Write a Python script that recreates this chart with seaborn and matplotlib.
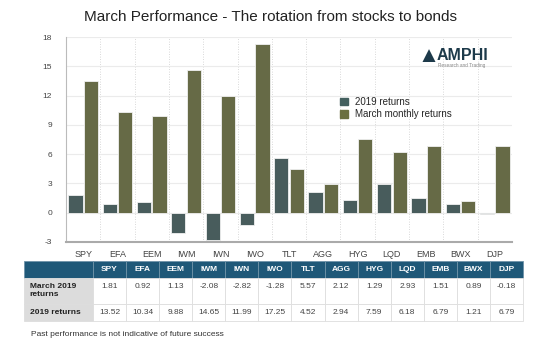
import matplotlib
matplotlib.use('Agg')
import matplotlib.pyplot as plt
import numpy as np
import pandas as pd
import seaborn as sns

tickers = ['SPY', 'EFA', 'EEM', 'IWM', 'IWN', 'IWO', 'TLT', 'AGG', 'HYG', 'LQD', 'EMB', 'BWX', 'DJP']
march_2019 = [1.81, 0.92, 1.13, -2.08, -2.82, -1.28, 5.57, 2.12, 1.29, 2.93, 1.51, 0.89, -0.18]
ret_2019 = [13.52, 10.34, 9.88, 14.65, 11.99, 17.25, 4.52, 2.94, 7.59, 6.18, 6.79, 1.21, 6.79]
legend_names = ['2019 returns', 'March monthly returns']
row_names = ['March 2019\nreturns', '2019 returns']

BLUE = '#44605f'
GREEN = '#6b7040'
HEADER = '#1f5878'

df = pd.DataFrame({
    'ticker': tickers * 2,
    'value': march_2019 + ret_2019,
    'series': [legend_names[0]] * len(tickers) + [legend_names[1]] * len(tickers),
})

sns.set_style('white')
plt.rcParams['font.family'] = ['Liberation Sans', 'DejaVu Sans']
plt.rcParams['axes.unicode_minus'] = False

fig = plt.figure(figsize=(5.35, 3.54), dpi=100)
ax = fig.add_axes([66 / 535, 1 - 242 / 354, 446 / 535, 205 / 354])

sns.barplot(data=df, x='ticker', y='value', hue='series', order=tickers,
            palette=[BLUE, GREEN], width=0.9, gap=0.08, edgecolor='#f0f0f0',
            linewidth=0.6, ax=ax, legend=False)

ax.set_ylim(-3, 18)
ax.set_yticks(np.arange(-3, 19, 3))
ax.set_xlim(-0.5, len(tickers) - 0.5)
ax.set_xlabel('')
ax.set_ylabel('')
ax.yaxis.grid(True, color='#ebebeb', lw=0.8)
for i in range(len(tickers)):
    ax.axvline(i + 0.5, color='#cccccc', lw=0.6, ls=(0, (1, 2)), zorder=0)
ax.set_axisbelow(True)
for s in ['top', 'right']:
    ax.spines[s].set_visible(False)
ax.spines['left'].set_color('#bbbbbb')
ax.spines['bottom'].set_color('#aaaaaa')
ax.spines['bottom'].set_linewidth(1.5)
ax.tick_params(axis='y', labelsize=6, colors='#444444', length=0, pad=10)
ax.tick_params(axis='x', labelsize=6.5, colors='#444444', length=0, pad=6)

# legend
handles = [plt.Rectangle((0, 0), 1, 1, color=c) for c in [BLUE, GREEN]]
fig.legend(handles, legend_names, loc='upper left', bbox_to_anchor=(331 / 535, 1 - 88 / 354),
           frameon=False, fontsize=7, handlelength=0.8, handleheight=0.8,
           handletextpad=0.8, labelspacing=0.25)

# logo
fig.text(428 / 535, 1 - 56 / 354, '\u25B2', color='#1d3a4a', fontsize=16, ha='center', va='center')
fig.text(437 / 535, 1 - 55 / 354, 'AMPHI', color='#1d3a4a', fontsize=11.5, fontweight='bold',
         ha='left', va='center')
fig.text(438 / 535, 1 - 65 / 354, 'Research and Trading', color='#888888', fontsize=3.4,
         ha='left', va='center')

# title
fig.text(271 / 535, 1 - 17 / 354, 'March Performance - The rotation from stocks to bonds',
         fontsize=11, ha='center', va='center', color='#222222')

# table
tax = fig.add_axes([24 / 535, 1 - 321 / 354, 499 / 535, 60 / 354])
tax.axis('off')
cells = [[''] + tickers,
         [row_names[0]] + [f'{v:.2f}\n' for v in march_2019],
         [row_names[1]] + [f'{v:.2f}' for v in ret_2019]]
tbl = tax.table(cellText=cells, bbox=[0, 0, 1, 1], cellLoc='center')
tbl.auto_set_font_size(False)
first_w = 69 / 499
other_w = (1 - first_w) / len(tickers)
heights = [17 / 60, 26 / 60, 17 / 60]
for (r, c), cell in tbl.get_celld().items():
    cell.set_width(first_w if c == 0 else other_w)
    cell.set_height(heights[r])
    cell.set_edgecolor('#dddddd')
    cell.set_linewidth(0.6)
    txt = cell.get_text()
    txt.set_fontsize(6)
    if r == 0:
        cell.set_facecolor(HEADER)
        cell.set_edgecolor('#6f93a8')
        txt.set_color('white')
        txt.set_fontweight('bold')
    elif c == 0:
        cell.set_facecolor('#dcdcdc')
        txt.set_fontweight('bold')
        txt.set_color('#222222')
        txt.set_ha('left')
        cell.PAD = 0.08
        cell._loc = 'left'
    else:
        cell.set_facecolor('white')
        txt.set_color('#444444')

fig.text(31 / 535, 1 - 334 / 354, 'Past performance is not indicative of future success',
         fontsize=6, color='#333333', ha='left', va='center')

fig.savefig('out.png', dpi=100, facecolor='white')
